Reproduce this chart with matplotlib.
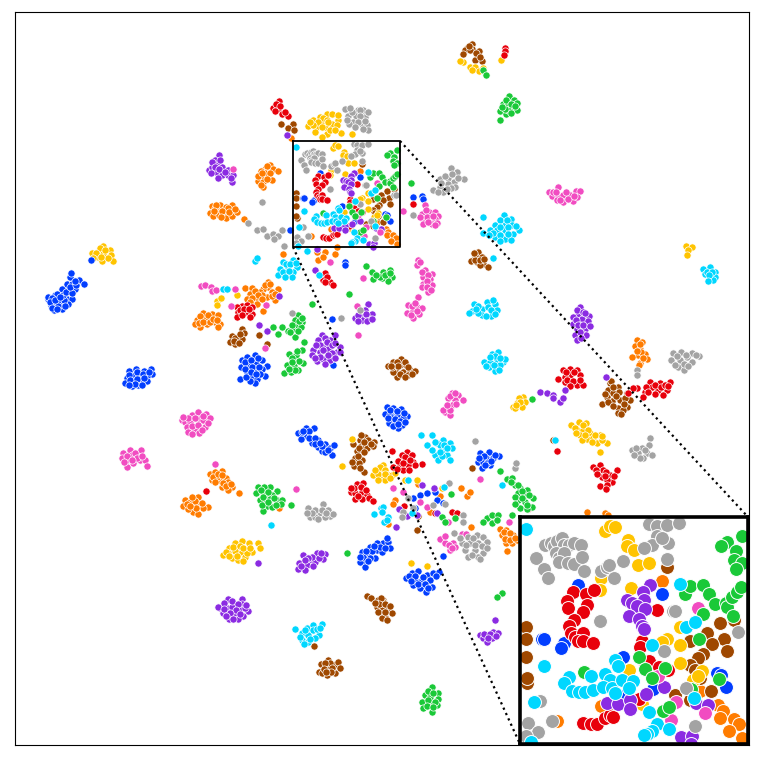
import numpy as np
import matplotlib
matplotlib.use('Agg')
import matplotlib.pyplot as plt

# points outside the zoomed box (x, y in image pixels)
blue = [(48,299),(54,302),(60,304),(67,299),(72,299),(51,305),(54,310),(62,309),(68,304),(62,289),(69,290),(67,284),(72,284),(79,280),(84,284),(70,277),(71,273),(75,289),(55,295),(48,297),(57,294),
        (129,371),(136,369),(144,371),(151,369),(152,374),(133,376),(140,375),(147,376),(127,378),(134,381),(141,381),(147,381),(125,383),(132,386),(138,385),
        (242,360),(247,357),(255,355),(262,360),(267,366),(241,367),(248,365),(256,364),(262,369),(247,372),(254,370),(265,376),(240,379),(252,377),(257,379),(255,383),(250,381),
        (298,433),(306,428),(314,428),(305,435),(301,439),(312,443),(318,440),(325,444),(318,447),(322,451),(330,448),(334,445),(332,455),(325,452),
        (387,407),(393,408),(401,409),(407,416),(385,414),(390,414),(397,415),(403,418),(389,423),(395,423),(402,425),(398,428),(392,418),
        (480,453),(489,452),(486,458),(493,458),(499,456),(478,462),(483,462),(490,465),(482,468),(487,463),
        (383,543),(377,543),(370,547),(377,550),(362,552),(368,555),(375,558),(365,562),(360,562),(365,567),(382,552),(388,542),(390,548),
        (406,578),(412,573),(418,571),(427,575),(433,573),(439,572),(415,580),(422,580),(430,580),(432,587),(420,588),(426,592),(413,585),
        (413,498),(420,495),(427,493),(435,492),(437,500),(443,503),(415,508),(387,538),(443,556),
        (345,262),(345,265),(332,319),(333,365),(290,230),(91,260),(413,197),(422,196),(423,199)]
orange = [(270,165),(273,169),(265,169),(261,171),(267,175),(262,177),(272,180),(258,181),(263,182),(263,187),(278,171),(261,185),
          (212,206),(220,205),(232,205),(210,213),(217,210),(213,216),(219,215),(225,214),(226,218),(232,216),(237,212),(224,210),(244,219),
          (245,288),(252,288),(250,294),(268,287),(263,289),(260,292),(278,289),(272,292),(255,299),(247,299),(267,297),(275,300),(257,304),(262,295),(268,282),(263,311),
          (197,320),(205,319),(212,314),(218,315),(200,327),(195,324),(215,322),(220,324),(218,327),(203,313),(207,324),
          (317,252),(325,252),(318,260),(323,257),(335,254),(337,247),
          (210,474),(215,472),(222,471),(212,480),(219,480),(226,478),(217,477),(222,487),(228,482),(232,487),(228,490),(239,493),
          (185,500),(190,502),(198,497),(183,506),(192,507),(198,504),(193,512),(198,514),(208,507),(203,508),(188,509),
          (637,340),(642,342),(635,346),(640,349),(645,354),(638,355),(632,357),(647,359),(640,363),(639,365),
          (461,488),(467,496),(470,492),(440,496),(418,484),(430,512),(395,500),(393,504),(388,524),(471,527),
          (500,529),(506,530),(513,535),(502,535),(508,537),(506,543),(512,543),(517,540),(507,551),(587,512),(605,513),(608,515),
          (279,508),(283,254),(291,138)]
green = [(509,96),(514,100),(517,103),(503,104),(508,104),(513,109),(500,111),(506,114),(517,110),(500,120),(508,110),
         (483,70),(486,75),(411,183),
         (383,272),(390,270),(392,277),(387,278),(388,281),(382,278),(373,279),(380,277),(372,272),(366,266),
         (298,315),(302,322),(297,326),(292,329),(301,327),(288,331),(295,337),(282,327),(273,327),(278,334),(312,304),(349,294),
         (289,354),(296,355),(302,350),(303,363),(287,365),(294,366),(298,370),(284,373),(291,372),(304,342),
         (258,487),(270,487),(256,493),(263,492),(277,491),(272,495),(260,500),(266,499),(277,500),(282,500),(267,506),(272,507),(281,504),(263,511),(291,505),
         (347,553),
         (432,687),(438,693),(425,695),(430,697),(438,699),(422,702),(430,703),(423,708),(432,712),(437,705),
         (502,593),(497,597),
         (500,471),(507,479),(512,478),(515,485),(520,488),(527,490),(518,493),(525,495),(518,500),(525,502),(533,498),(532,507),(520,508),(527,509),
         (487,518),(492,515),(498,515),(483,522),(492,523),(497,520),(512,515),
         (532,399),(442,517),(445,522),(451,494),(455,518)]
red = [(279,101),(273,108),(278,109),(282,114),(288,116),
       (505,48),(505,51),(504,55),
       (325,273),(323,280),(330,282),(333,285),
       (242,306),(237,307),(247,305),(252,307),(238,312),(247,312),(252,314),(237,317),
       (413,204),
       (563,370),(570,369),(577,370),(558,379),(570,375),(580,375),(565,377),(565,382),(577,385),(583,385),
       (650,382),(660,383),(670,382),(652,387),(658,390),(667,390),(645,392),(663,395),(637,388),(633,388),(628,393),(643,397),
       (407,452),(402,455),(412,455),(407,460),(413,462),(422,464),(400,465),(393,467),(415,465),(408,465),(403,470),(392,451),
       (357,484),(363,483),(351,492),(355,493),(362,492),(367,495),(355,499),(362,499),(369,498),(373,501),
       (593,467),(600,465),(603,470),(617,470),(610,475),(602,477),(612,482),(607,480),(600,486),(607,485),
       (557,451),(404,506),(452,512),(457,513),(435,513),(528,509),(206,491)]
purple = [(219,155),(215,160),(209,170),(212,167),(217,165),(222,167),(216,172),(222,175),(228,170),(228,175),(233,175),(232,182),
          (322,335),(335,335),(330,340),(318,340),(325,345),(313,350),(320,352),(328,349),(337,352),(340,347),(317,361),(323,359),(330,360),(325,364),(312,355),
          (370,315),(363,317),(355,318),(362,320),(368,304),(372,314),(370,319),(365,310),
          (580,307),(578,314),(573,317),(589,316),(582,319),(588,321),(573,324),(580,325),(577,329),(585,329),(583,334),(575,335),(577,340),(586,335),(606,377),
          (228,599),(242,599),(220,608),(227,608),(232,607),(242,604),(248,611),(240,610),(223,613),(235,614),(243,616),(229,619),(238,619),(218,607),
          (303,555),(310,560),(317,553),(325,554),(323,559),(315,562),(299,563),(307,565),(305,570),(298,569),(312,557),(258,563),
          (480,635),(487,635),(493,632),(498,633),(483,638),(492,638),(487,642),(495,620),
          (540,392),(547,393),(553,395),(565,390),(560,402),(553,398),(563,398),
          (434,488),(422,485),(396,527),(417,515),(399,509),(407,516),(437,513),
          (259,325),(267,331),(279,296),(315,270),(287,135),(317,249)]
brown = [(472,44),(467,48),(465,50),(472,49),(463,54),(479,51),(477,57),(482,61),(475,60),
         (281,124),(293,124),(288,128),(294,130),
         (478,252),(475,256),(482,257),(471,261),(477,262),(483,264),(488,267),(480,265),
         (401,359),(393,362),(388,366),(400,365),(406,365),(395,370),(403,372),(410,370),(415,371),(397,377),(408,375),(393,372),
         (242,329),(244,333),(232,336),(237,340),(230,342),(242,339),(235,344),(259,335),(267,344),
         (610,383),(618,387),(608,390),(613,393),(627,393),(607,397),(620,400),(602,404),(612,401),(630,400),(627,407),(618,408),(618,413),(623,410),(611,381),
         (365,437),(360,440),(368,440),(374,442),(353,444),(361,446),(367,448),(357,451),(355,458),(362,460),(354,466),(359,463),(364,472),(373,446),
         (367,596),(371,598),(378,600),(383,600),(380,610),(377,607),(383,607),(383,615),(383,602),(388,610),(382,610),(385,617),(392,613),(382,618),(381,598),
         (328,660),(321,664),(336,664),(338,662),(328,667),(319,672),(335,673),(327,675),(322,673),(330,663),
         (314,646),(472,468),(417,530),(418,516),(553,440)]
pink = [(558,187),(549,192),(552,196),(558,197),(563,195),(570,195),(576,191),(580,191),(557,200),(563,202),(573,201),(577,197),
        (425,205),(422,214),(429,212),(435,212),(438,216),(423,219),(430,219),(435,219),(423,224),(432,224),(437,223),(403,211),
        (418,260),(417,265),(425,270),(432,274),(423,277),(430,279),(423,284),(432,285),(428,292),(422,287),
        (418,297),(408,305),(417,307),(422,308),(407,313),(413,311),(419,314),(413,318),
        (201,286),(205,285),(211,287),(212,291),(216,290),(235,289),(231,306),(266,305),(265,348),(358,335),(330,262),(363,278),(357,306),(233,169),(373,274),
        (182,420),(192,415),(198,412),(206,414),(210,418),(185,422),(190,422),(198,419),(203,420),(187,427),(195,430),(205,427),(188,432),(199,433),
        (123,453),(130,450),(141,450),(127,460),(133,463),(140,460),(122,458),(145,460),(147,466),(127,467),(132,455),
        (452,393),(458,395),(448,398),(455,400),(463,400),(452,405),(445,412),(450,415),(443,410),(450,410),
        (440,539),(445,543),(453,543),(450,550),(455,547),(462,534),(466,534),(480,479),(393,488),(403,492),(420,502),(427,507),(448,522),(509,522),
        (296,489),(215,464)]
gray = [(345,109),(358,110),(363,110),(348,116),(356,116),(365,117),(353,122),(349,124),(362,124),(367,125),(368,130),(363,129),(360,110),
        (451,168),(457,172),(440,179),(448,178),(464,179),(454,182),(448,184),(440,187),(433,190),(455,187),(443,192),(413,215),(394,195),
        (262,202),(248,223),(257,230),(263,229),(267,236),(273,234),(278,236),(282,230),(284,246),(274,239),(292,313),(341,318),(360,310),
        (673,353),(681,352),(692,353),(699,356),(671,360),(680,360),(687,357),(692,362),(678,367),(684,370),(637,370),(637,375),
        (650,438),(649,445),(632,450),(642,448),(638,453),(647,453),(652,455),(643,458),
        (308,508),(323,504),(328,510),(319,513),(310,517),(330,516),(333,514),(325,517),(315,517),
        (454,533),(477,535),(468,537),(483,537),(462,543),(470,543),(478,543),(487,542),(465,550),(475,550),(483,553),(468,557),(478,557),
        (463,515),(463,522),(515,468),(516,463),(475,441),(449,483),(445,504),(433,505),(408,498),(403,512),(402,517),(413,508)]
yellow = [(320,117),(327,114),(332,114),(313,120),(322,122),(332,124),(338,120),(308,126),(317,127),(325,127),(337,125),(315,132),(327,134),(322,137),(341,133),(352,134),
          (103,246),(110,250),(100,248),(92,253),(103,254),(111,255),(98,257),(102,261),(113,261),
          (463,62),(470,67),(475,67),(479,71),(483,68),(501,60),(460,61),(472,70),
          (686,246),(692,247),(688,250),(687,255),
          (217,301),(221,298),(217,305),(237,295),
          (523,397),(519,398),(517,403),(525,402),(513,407),(522,407),(515,408),
          (571,425),(579,422),(586,423),(577,430),(583,430),(590,433),(580,435),(587,439),(593,438),(600,435),(597,443),(607,443),(600,452),(582,440),(602,440),
          (378,470),(383,465),(373,475),(382,478),(380,467),(385,470),(388,475),(382,477),(392,475),(385,480),(395,473),
          (242,541),(249,543),(258,543),(260,548),(252,552),(235,543),(229,548),(223,555),(235,551),(242,552),(232,558),(238,560),(245,557),(247,553),(228,553),
          (342,466),(352,439),(417,480),(405,480),(442,488),(427,566),(411,563)]
cyan = [(504,215),(511,219),(495,225),(505,224),(512,225),(519,230),(490,230),(497,230),(505,230),(513,234),(495,237),(505,239),(511,240),(483,233),(483,217),(493,258),
        (283,262),(293,260),(288,267),(297,267),(280,269),(286,274),(293,272),(278,275),(292,277),(255,261),(257,258),(319,275),(307,251),
        (474,304),(487,302),(495,304),(472,311),(482,309),(488,307),(497,310),(482,315),(491,316),(469,313),(493,300),
        (492,354),(498,352),(484,362),(490,362),(497,359),(503,362),(489,367),(495,371),(500,365),(505,359),
        (710,267),(703,269),(705,274),(710,278),(715,272),(715,277),(713,280),
        (421,435),(432,435),(427,445),(443,440),(437,443),(450,443),(443,450),(452,448),(435,455),(447,455),(438,460),(450,460),(555,440),
        (295,629),(302,633),(307,628),(313,625),(322,624),(308,635),(313,630),(319,635),(302,640),(308,642),(315,638),
        (381,508),(374,514),(384,522),(383,507),(382,512),(388,517),(387,520),
        (408,480),(444,487),(412,513),(502,485),(271,525),(223,289),(227,289)]

# cluster interiors, the points packed between the ones above
blue2 = [(52,298),(58,300),(64,300),(58,306),(65,306),(50,302),(55,300),(63,295),(66,292),(72,293),(70,287),(76,285),(75,281),(60,297),(52,308),(57,309),
         (129,375),(137,372),(143,374),(149,372),(130,380),(137,379),(144,378),(135,384),(142,385),(129,385),
         (245,362),(251,360),(258,358),(252,367),(259,367),(245,369),(260,374),(246,377),(251,372),(256,374),
         (302,432),(309,431),(303,431),(309,438),(315,438),(322,446),(328,450),(315,444),(320,443),
         (390,410),(397,411),(404,413),(388,418),(395,419),(400,421),(393,426),(398,424),(405,422),
         (484,456),(491,461),(485,465),(479,458),(495,455),
         (380,547),(372,551),(370,558),(363,557),(368,561),(385,548),(374,546),(360,557),(366,551),
         (409,576),(415,576),(423,577),(418,584),(425,584),(428,588),(436,576),(411,581)]
orange2 = [(267,166),(265,173),(270,173),(258,176),(267,179),(262,173),
           (215,208),(226,207),(216,205),(228,208),(214,211),(222,211),(229,212),(221,217),(235,209),
           (255,291),(258,295),(265,285),(270,284),(252,298),(262,299),(250,302),(272,296),(275,294),
           (200,316),(208,315),(199,323),(203,322),(210,322),(213,319),(217,320),
           (213,477),(218,474),(222,475),(215,482),(223,483),(226,486),(231,484),
           (187,504),(195,501),(192,497),(196,508),(190,506),(202,503),
           (640,344),(641,352),(637,351),(643,358),
           (504,532),(510,533),(505,539),(510,540),(515,538)]
green2 = [(506,100),(511,104),(505,109),(511,113),(515,106),(502,107),
          (295,320),(299,321),(292,325),(298,331),(290,332),(302,318),
          (292,358),(299,361),(292,362),(295,370),(289,369),(297,351),
          (264,487),(261,490),(268,492),(263,497),(270,499),(274,498),(262,505),(268,502),(276,505),
          (428,691),(433,693),(428,700),(435,702),(427,706),(433,707),
          (511,482),(518,485),(522,491),(515,497),(522,498),(529,495),(527,505),(515,504),
          (385,275),(390,273),(376,275)]
red2 = [(276,104),(280,106),(285,112),(275,111),(327,277),(325,282),
        (240,310),(244,309),(249,309),(242,315),(250,317),
        (566,372),(574,372),(567,380),(573,381),(580,380),(570,386),
        (646,387),(655,385),(661,387),(665,385),(655,394),(648,392),(668,386),
        (405,457),(398,461),(410,460),(403,463),(397,469),(409,470),
        (354,488),(361,487),(358,496),(366,490),(351,488),
        (596,470),(606,472),(597,474),(605,476),(614,476),(606,489)]
purple2 = [(212,162),(215,167),(211,173),(219,169),(225,172),(231,178),(218,178),(220,160),
           (325,338),(327,342),(320,345),(332,345),(316,345),(323,350),(332,353),(335,343),(320,357),(328,355),(335,358),(315,358),(340,352),
           (358,315),(366,314),(367,321),(358,321),(372,319),
           (577,310),(583,312),(576,320),(585,313),(578,325),(583,325),(580,332),(581,338),(590,326),
           (224,603),(232,601),(238,604),(224,609),(236,610),(245,608),(230,613),(240,614),(233,619),(226,616),(246,605),
           (308,558),(319,558),(305,560),(313,566),(301,566),(321,553),
           (484,634),(490,634),(496,636),(488,638)]
brown2 = [(470,50),(476,53),(469,46),(480,57),
          (475,260),(480,260),(484,259),(474,253),
          (397,362),(405,362),(392,367),(398,366),(408,367),(400,374),(391,366),(405,377),(412,374),
          (235,338),(240,334),(234,341),(239,343),
          (613,387),(619,392),(605,394),(616,396),(625,398),(608,402),(624,404),(613,406),(621,414),
          (361,435),(364,442),(371,444),(359,448),(364,452),(358,456),(352,462),(360,468),
          (379,604),(385,604),(378,612),(385,612),(390,606),(375,603),(387,620),
          (325,663),(332,668),(324,669),(331,672),(326,672),(340,668)]
pink2 = [(553,192),(566,192),(560,200),(568,199),(574,196),(556,192),
         (426,210),(427,217),(433,216),(428,222),(435,225),(420,217),
         (422,272),(428,275),(427,281),(427,287),(431,290),(420,262),
         (412,306),(417,311),(411,315),(415,303),
         (188,418),(195,418),(203,416),(183,417),(192,426),(198,425),(202,430),(208,423),(192,434),
         (127,456),(135,453),(137,458),(132,460),(142,456),(124,462),
         (450,396),(456,404),(447,405),(455,393),
         (445,536),(449,545),(452,548)]
gray2 = [(352,112),(360,116),(347,120),(358,122),(365,121),(355,127),(368,112),(350,108),
         (445,176),(452,174),(458,178),(441,183),(451,188),(438,192),(447,189),
         (677,356),(686,355),(675,365),(684,364),(696,355),(688,366),
         (636,448),(645,450),(640,458),(634,455),
         (315,510),(322,510),(312,513),(326,513),(318,519),(307,513),
         (473,538),(475,545),(482,546),(460,538),(472,555),(466,545),(487,548),(480,559)]
yellow2 = [(323,118),(318,122),(327,120),(338,115),(313,125),(322,127),(330,130),(310,122),(335,130),(328,122),
           (105,250),(96,253),(108,258),(101,257),(93,258),
           (575,428),(583,425),(588,430),(585,435),(595,435),(592,442),(602,436),(576,433),
           (378,474),(385,474),(375,470),(390,478),(378,480),
           (233,547),(240,546),(226,552),(237,556),(243,548),(250,548),(229,556),(243,561),
           (520,402),(516,405)]
cyan2 = [(500,220),(507,220),(500,227),(508,227),(493,233),(500,235),(508,234),(516,226),(500,241),(489,235),
         (286,264),(290,264),(283,272),(289,271),(296,263),(285,277),
         (478,306),(491,310),(478,313),(486,316),(495,314),(476,309),
         (495,356),(490,357),(500,358),(494,365),(499,370),(486,366),
         (707,272),(712,272),(709,275),(708,281),
         (440,445),(444,445),(432,450),(442,456),(447,448),(435,442),(440,452),
         (300,637),(305,630),(310,639),(317,629),(304,644),(320,628)]

# points inside the zoomed box (in units of the inset crop)
core_gray = [(95,100),(110,95),(120,105),(130,90),(145,80),(150,100),(165,100),(180,95),(200,102),(125,125),(135,140),(150,125),(135,150),(160,155),(180,157),(203,135),(68,138),(90,172),(102,200),(210,178),(258,177),(275,165),(282,160),(297,200),(255,325),
             (400,40),(425,45),(452,42),(490,36),(423,75),(408,100),(385,110),(455,95),(440,80),(325,147),(453,142),(470,295),(478,297),(664,358),(443,415),(80,562),(113,622),(43,627),(72,655),(38,665),(537,636),(510,525)]
core_yellow = [(270,60),(285,45),(300,48),(338,87),(335,105),(357,115),(367,160),(400,155),(258,200),(255,235),(347,227),(492,345),(454,380),(438,388),(492,397),(491,450),(340,470),(555,475),(530,500),(380,572),(545,490)]
core_red = [(175,240),(158,267),(162,288),(215,245),(238,235),(218,278),(205,300),(180,322),(165,340),(170,360),(182,372),(205,360),(190,385),(205,385),(235,392),(424,292),(380,385),(375,402),(385,445),(400,445),(430,462),(455,470),(207,628),(228,630),(248,630),(272,612),(285,605),(295,610),(370,558)]
core_blue = [(190,218),(440,247),(85,380),(90,380),(150,390),(140,407),(325,432),(600,480),(612,487),(628,522),(412,528),(325,548)]
core_purple = [(402,220),(383,240),(335,265),(350,272),(385,265),(365,280),(340,310),(387,290),(370,320),(380,340),(385,350),(443,522),(275,570),(310,572),(345,560),(345,585),(390,542),(495,668),(527,667),(540,570),(575,575),(525,690)]
core_brown = [(38,345),(38,380),(38,433),(42,505),(42,508),(453,165),(610,332),(652,322),(570,362),(620,378),(585,395),(630,415),(560,425),(545,435),(520,385),(520,455),(535,472),(552,495),(583,532),(478,545),(40,495),(520,560)]
core_orange = [(438,208),(260,578),(130,622),(550,532),(605,575),(618,592),(610,612),(650,615),(665,630),(637,652),(673,672)]
core_green = [(675,75),(630,92),(612,105),(656,120),(650,145),(675,155),(656,172),(505,247),(522,222),(558,220),(576,245),(595,275),(627,272),(630,283),(645,255),(660,240),(672,225),(648,310),(560,305),(547,380),(370,432),(388,467),(448,465),(408,495),(607,497),(208,477),(442,592),(460,580),(525,528)]
core_pink = [(545,287),(428,490),(479,565),(565,598),(465,620)]
core_cyan = [(38,55),(491,215),(510,345),(535,328),(410,397),(90,460),(300,440),(308,458),(272,483),(285,500),(230,490),(163,493),(150,510),(172,532),(195,535),(212,535),(235,530),(265,522),(290,525),(320,500),(352,503),(340,525),(300,540),(400,596),(425,630),(460,645),(410,652),(393,660),(385,662),(533,555),(60,565),(52,685)]

colors = {'blue': '#023eff', 'orange': '#ff7c00', 'green': '#1ac938', 'red': '#e8000b',
          'purple': '#8b2be2', 'brown': '#9f4800', 'pink': '#f14cc1', 'gray': '#a3a3a3',
          'yellow': '#ffc400', 'cyan': '#00d7ff'}
# later entries are drawn on top
classes = [('orange', orange + orange2, core_orange), ('brown', brown + brown2, core_brown),
           ('yellow', yellow + yellow2, core_yellow), ('blue', blue + blue2, core_blue),
           ('red', red + red2, core_red), ('purple', purple + purple2, core_purple),
           ('pink', pink + pink2, core_pink), ('green', green + green2, core_green),
           ('gray', gray + gray2, core_gray), ('cyan', cyan + cyan2, core_cyan)]


def core_to_main(pts):
    # inset crop units to image pixels
    p = np.array(pts, dtype=float)
    return np.column_stack((293 + (p[:, 0]-20)/672*107, 141 + (p[:, 1]-18)/672*106))


W = 761.0
fig = plt.figure(figsize=(7.61, 7.61), dpi=100)
ax = fig.add_axes([15/W, 1-745/W, 734/W, 733/W])
ins = fig.add_axes([520/W, 1-744/W, 228/W, 227/W])
ins.set_zorder(5)

for name, pts, core in classes:
    c = core_to_main(core)
    p = np.vstack((np.array(pts, dtype=float), c))
    ax.scatter(p[:, 0], p[:, 1], s=27, c=colors[name], edgecolors='white', linewidths=0.5)
    ins.scatter(c[:, 0], c[:, 1], s=100, c=colors[name], edgecolors='white', linewidths=0.7)

ax.set_xlim(15, 749)
ax.set_ylim(745, 12)
ax.set_xticks([])
ax.set_yticks([])
ins.set_xlim(293, 400)
ins.set_ylim(247, 141)
ins.set_xticks([])
ins.set_yticks([])
for s in ins.spines.values():
    s.set_linewidth(2.6)

ax.plot([293, 400, 400, 293, 293], [141, 141, 247, 247, 141], color='k', lw=1.3, zorder=4)
ax.plot([293, 520], [247, 744], color='k', ls=':', lw=1.6, zorder=4)
ax.plot([400, 748], [141, 517], color='k', ls=':', lw=1.6, zorder=4)

fig.savefig('out.png', dpi=100)
